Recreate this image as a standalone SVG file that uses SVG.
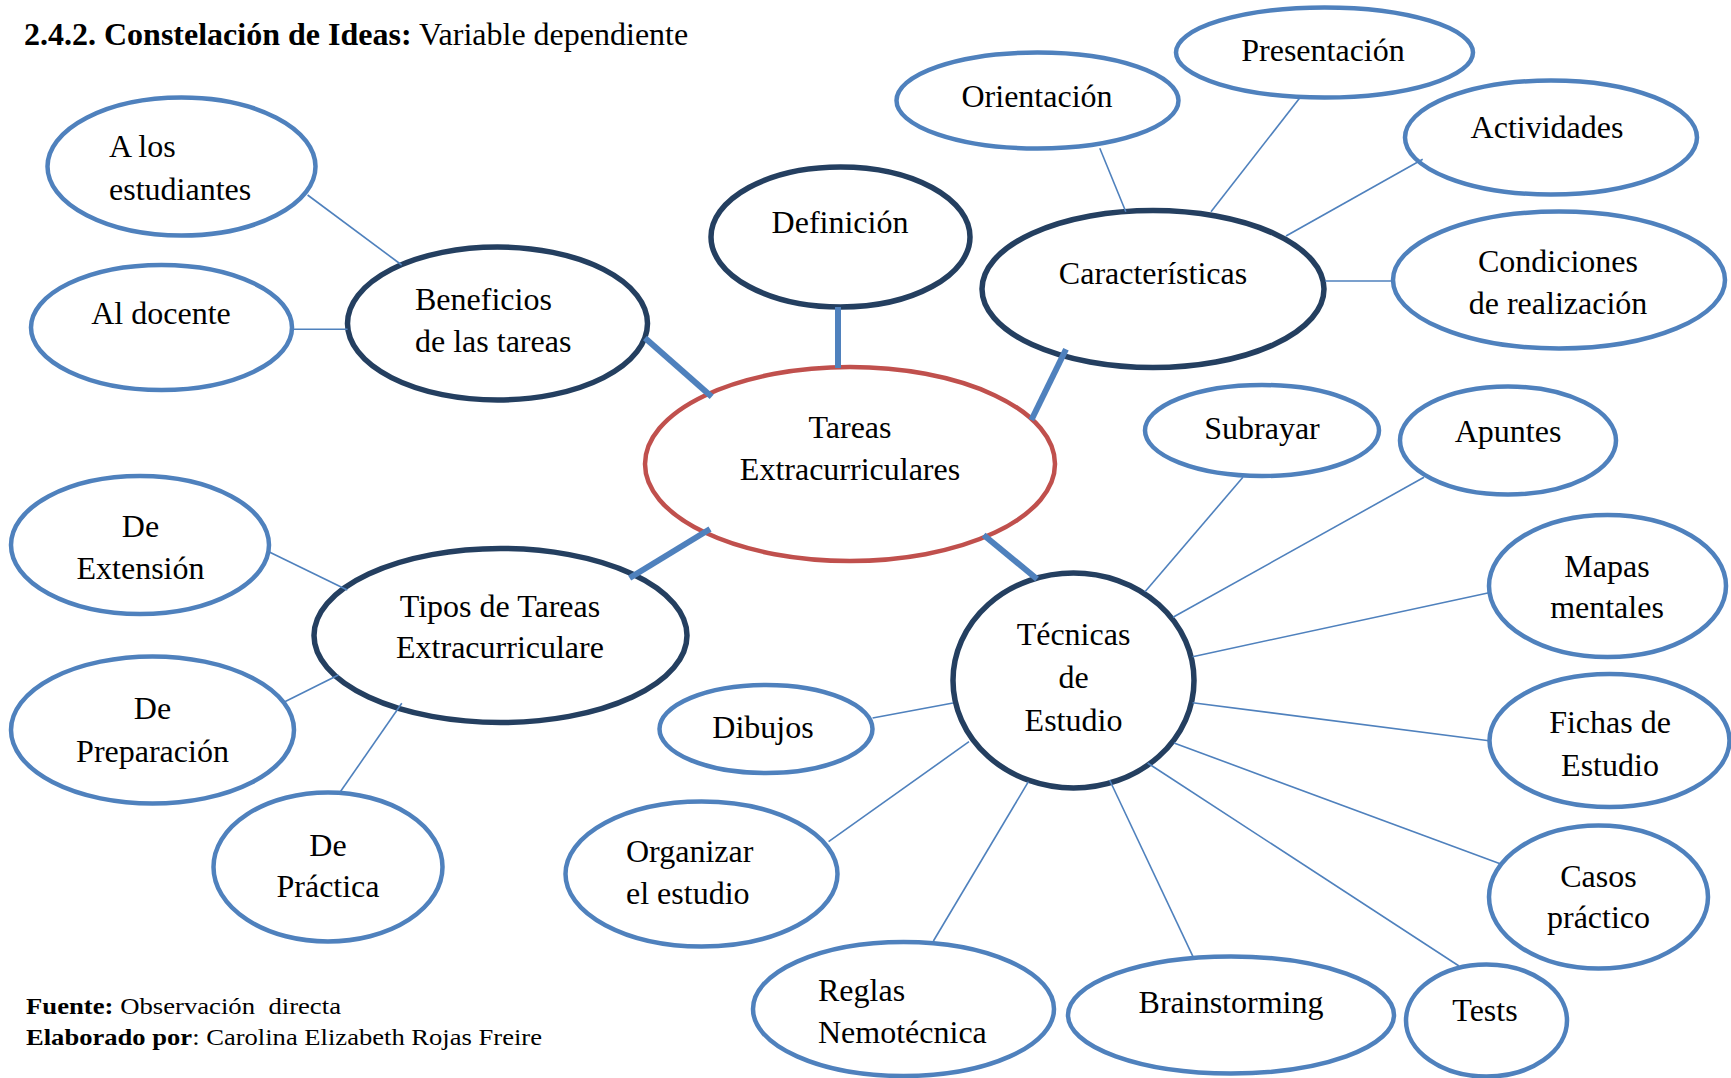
<svg xmlns="http://www.w3.org/2000/svg" width="1731" height="1078" viewBox="0 0 1731 1078">
<style>
text{font-family:"Liberation Serif","Times New Roman",serif;font-size:32px;fill:#000}
.c{text-anchor:middle}
.b{font-weight:bold}
.lt{fill:#fff;stroke:#4F81BD;stroke-width:4.5}
.dk{fill:#fff;stroke:#243F60;stroke-width:5.5}
.rd{fill:#fff;stroke:#C0504D;stroke-width:4.5}
.thin{stroke:#4F81BD;stroke-width:1.6;fill:none}
.thick{stroke:#4F81BD;stroke-width:6;fill:none}
.ft{font-size:23px}
</style>
<rect width="1731" height="1078" fill="#fff"/>
<text x="24" y="45"><tspan class="b">2.4.2. Constelación de Ideas:</tspan> Variable dependiente</text>

<g id="n-estudiantes"><ellipse class="lt" cx="181.5" cy="166.5" rx="134" ry="69"/><text x="109" y="157">A los</text><text x="109" y="200">estudiantes</text></g>
<g id="n-docente"><ellipse class="lt" cx="161.5" cy="327.5" rx="130.5" ry="62.5"/><text class="c" x="161" y="324">Al docente</text></g>
<g id="n-beneficios"><ellipse class="dk" cx="497.5" cy="323.5" rx="150" ry="76.5"/><text x="415" y="310">Beneficios</text><text x="415" y="352">de las tareas</text></g>
<g id="n-definicion"><ellipse class="dk" cx="840.5" cy="237" rx="129.5" ry="70"/><text class="c" x="840" y="233">Definición</text></g>
<g id="n-caracteristicas"><ellipse class="dk" cx="1153" cy="289" rx="171" ry="78.5"/><text class="c" x="1153" y="284">Características</text></g>
<g id="n-orientacion"><ellipse class="lt" cx="1037.5" cy="100.5" rx="141" ry="48"/><text class="c" x="1037" y="107">Orientación</text></g>
<g id="n-presentacion"><ellipse class="lt" cx="1324.5" cy="52.5" rx="148.5" ry="45"/><text class="c" x="1323" y="61">Presentación</text></g>
<g id="n-actividades"><ellipse class="lt" cx="1551" cy="137.5" rx="146" ry="57"/><text class="c" x="1547" y="138">Actividades</text></g>
<g id="n-condiciones"><ellipse class="lt" cx="1559" cy="280" rx="166" ry="68.5"/><text class="c" x="1558" y="272">Condiciones</text><text class="c" x="1558" y="314">de realización</text></g>
<g id="n-tareas"><ellipse class="rd" cx="850" cy="464" rx="205" ry="97"/><text class="c" x="850" y="438">Tareas</text><text class="c" x="850" y="480">Extracurriculares</text></g>
<g id="n-tipos"><ellipse class="dk" cx="500.5" cy="635.5" rx="186.5" ry="87"/><text class="c" x="500" y="617">Tipos de Tareas</text><text class="c" x="500" y="658">Extracurriculare</text></g>
<g id="n-extension"><ellipse class="lt" cx="140" cy="545" rx="129" ry="69"/><text class="c" x="140.5" y="537">De</text><text class="c" x="140.5" y="579">Extensión</text></g>
<g id="n-preparacion"><ellipse class="lt" cx="152.5" cy="730" rx="141.5" ry="73.5"/><text class="c" x="152.5" y="719">De</text><text class="c" x="152.5" y="762">Preparación</text></g>
<g id="n-practica"><ellipse class="lt" cx="328" cy="867" rx="114.5" ry="74.5"/><text class="c" x="328" y="856">De</text><text class="c" x="328" y="897">Práctica</text></g>
<g id="n-tecnicas"><ellipse class="dk" cx="1073.5" cy="680.5" rx="120.5" ry="107.5"/><text class="c" x="1073.5" y="645">Técnicas</text><text class="c" x="1073.5" y="688">de</text><text class="c" x="1073.5" y="731">Estudio</text></g>
<g id="n-subrayar"><ellipse class="lt" cx="1262" cy="430.5" rx="117" ry="45.5"/><text class="c" x="1262" y="439">Subrayar</text></g>
<g id="n-apuntes"><ellipse class="lt" cx="1508" cy="440.5" rx="108" ry="54"/><text class="c" x="1508" y="442">Apuntes</text></g>
<g id="n-mapas"><ellipse class="lt" cx="1607.5" cy="586" rx="118.5" ry="71"/><text class="c" x="1607" y="577">Mapas</text><text class="c" x="1607" y="618">mentales</text></g>
<g id="n-fichas"><ellipse class="lt" cx="1609.5" cy="740.5" rx="120" ry="66.5"/><text class="c" x="1610" y="733">Fichas de</text><text class="c" x="1610" y="776">Estudio</text></g>
<g id="n-casos"><ellipse class="lt" cx="1598.5" cy="897" rx="109.5" ry="71.5"/><text class="c" x="1598.5" y="887">Casos</text><text class="c" x="1598.5" y="928">práctico</text></g>
<g id="n-tests"><ellipse class="lt" cx="1486.5" cy="1020.5" rx="80.5" ry="56"/><text class="c" x="1485" y="1021">Tests</text></g>
<g id="n-brainstorming"><ellipse class="lt" cx="1231" cy="1015" rx="163" ry="58.5"/><text class="c" x="1231" y="1013">Brainstorming</text></g>
<g id="n-reglas"><ellipse class="lt" cx="903.5" cy="1009" rx="150.5" ry="67"/><text x="818" y="1001">Reglas</text><text x="818" y="1043">Nemotécnica</text></g>
<g id="n-organizar"><ellipse class="lt" cx="701.5" cy="874" rx="136" ry="72.5"/><text x="626" y="862">Organizar</text><text x="626" y="904">el estudio</text></g>
<g id="n-dibujos"><ellipse class="lt" cx="766" cy="729" rx="106.5" ry="44"/><text class="c" x="763" y="738">Dibujos</text></g>

<g id="connectors">
<line class="thin" x1="307.6" y1="195" x2="401.7" y2="265"/>
<line class="thin" x1="292" y1="329.3" x2="347.6" y2="329.3"/>
<line class="thick" x1="645" y1="338" x2="711.7" y2="396.7"/>
<line class="thick" x1="838" y1="307" x2="838" y2="368"/>
<line class="thick" x1="1066" y1="349.3" x2="1031.4" y2="420"/>
<line class="thin" x1="1099.8" y1="148.3" x2="1125.8" y2="211.7"/>
<line class="thin" x1="1299.5" y1="98.3" x2="1211" y2="211.7"/>
<line class="thin" x1="1422.7" y1="159.3" x2="1286" y2="236"/>
<line class="thin" x1="1325" y1="281" x2="1393" y2="281"/>
<line class="thick" x1="710" y1="529" x2="629.6" y2="578"/>
<line class="thick" x1="983.6" y1="535" x2="1037" y2="579"/>
<line class="thin" x1="268.8" y1="551.7" x2="347.3" y2="590"/>
<line class="thin" x1="284.8" y1="701.7" x2="338.4" y2="675"/>
<line class="thin" x1="340" y1="792.3" x2="401.8" y2="703.3"/>
<line class="thin" x1="872.6" y1="718" x2="953" y2="703"/>
<line class="thin" x1="1242.9" y1="477.3" x2="1145" y2="591.7"/>
<line class="thin" x1="1424" y1="477.3" x2="1173" y2="617.3"/>
<line class="thin" x1="1489" y1="592.7" x2="1192.6" y2="656.7"/>
<line class="thin" x1="1489" y1="740.7" x2="1192.6" y2="702.7"/>
<line class="thin" x1="1500.8" y1="864" x2="1174" y2="743"/>
<line class="thin" x1="1459" y1="966" x2="1147.6" y2="763"/>
<line class="thin" x1="1193" y1="956.7" x2="1109.6" y2="780"/>
<line class="thin" x1="933.4" y1="941" x2="1028.4" y2="781.7"/>
<line class="thin" x1="828.6" y1="841.7" x2="969" y2="741.7"/>
</g>

<text class="ft" x="26" y="1014" textLength="315" lengthAdjust="spacingAndGlyphs"><tspan class="b">Fuente:</tspan> Observación&#160; directa</text>
<text class="ft" x="26" y="1045" textLength="516" lengthAdjust="spacingAndGlyphs"><tspan class="b">Elaborado por</tspan>: Carolina Elizabeth Rojas Freire</text>
</svg>
